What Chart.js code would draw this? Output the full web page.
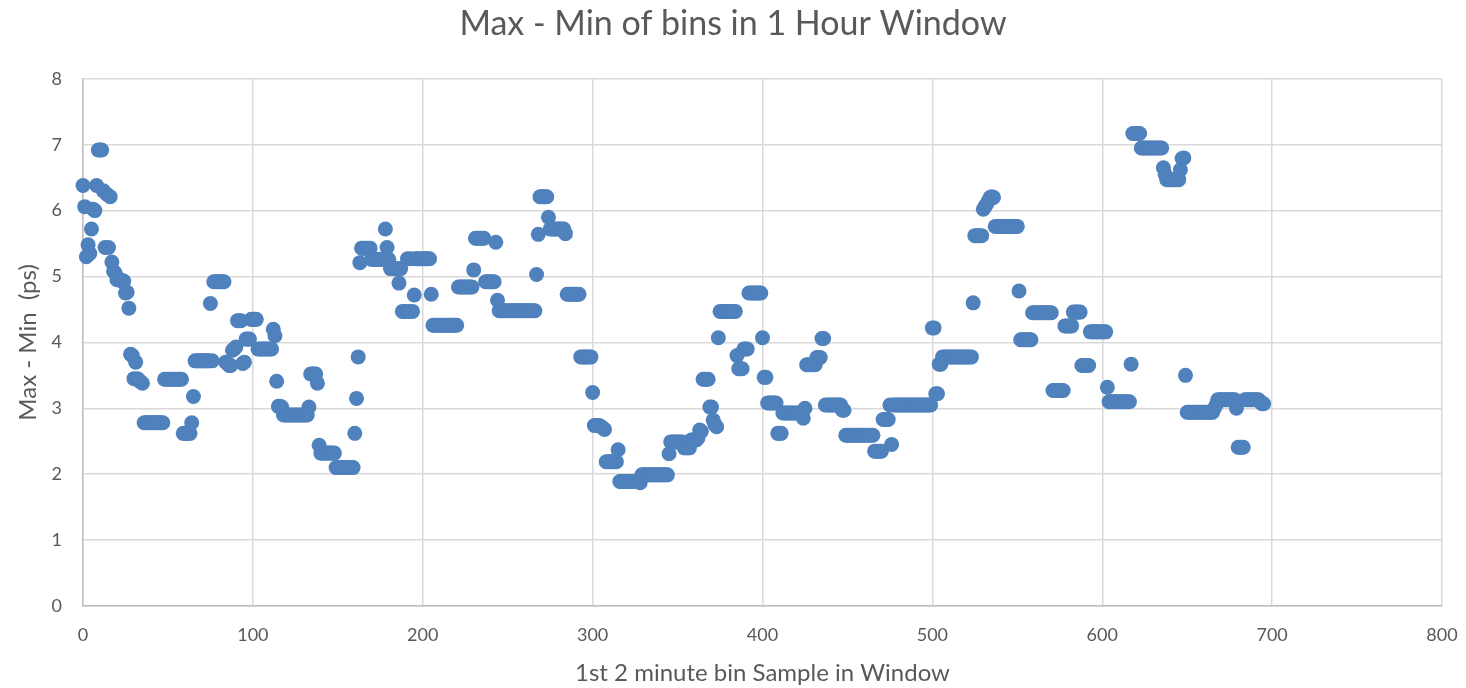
<!DOCTYPE html>
<html>
<head>
<meta charset="utf-8">
<title>Max - Min of bins in 1 Hour Window</title>
<script src="https://cdn.jsdelivr.net/npm/chart.js@4.4.1/dist/chart.umd.min.js"></script>
<style>
  html, body { margin: 0; padding: 0; background: #fff; }
  #wrap { width: 1466px; height: 688px; }
</style>
</head>
<body>
<div id="wrap"><canvas id="chart" width="1466" height="688"></canvas></div>
<script>
const chartTitle = 'Max - Min of bins in 1 Hour Window';
const xTitle = '1st 2 minute bin Sample in Window';
const yTitle = 'Max - Min  (ps)';

// max - min (ps) for each 2 minute bin, one value per sample index (0, 1, 2, ...)
const maxMinPs = [
  6.38, 6.06, 5.30, 5.48, 5.35, 5.72, 6.02, 6.00, 6.38, 6.92,
  6.92, 6.92, 6.30, 5.44, 6.25, 5.44, 6.21, 5.22, 5.08, 5.05,
  4.95, 4.95, 4.95, 4.93, 4.93, 4.75, 4.76, 4.52, 3.82, 3.80,
  3.45, 3.70, 3.45, 3.42, 3.40, 3.38, 2.78, 2.78, 2.78, 2.78,
  2.78, 2.78, 2.78, 2.78, 2.78, 2.78, 2.78, 2.78, 3.44, 3.44,
  3.44, 3.44, 3.44, 3.44, 3.44, 3.44, 3.44, 3.44, 3.44, 2.62,
  2.62, 2.62, 2.62, 2.62, 2.78, 3.18, 3.72, 3.72, 3.72, 3.72,
  3.72, 3.72, 3.72, 3.72, 3.72, 4.59, 3.72, 4.92, 4.92, 4.92,
  4.92, 4.92, 4.92, 4.92, 3.70, 3.68, 3.65, 3.65, 3.88, 3.90,
  3.93, 4.33, 4.33, 4.33, 3.68, 3.70, 4.05, 4.05, 4.05, 4.35,
  4.35, 4.35, 4.35, 3.90, 3.90, 3.90, 3.90, 3.90, 3.90, 3.90,
  3.90, 3.90, 4.20, 4.10, 3.41, 3.03, 3.03, 3.02, 2.90, 2.90,
  2.90, 2.90, 2.90, 2.90, 2.90, 2.90, 2.90, 2.90, 2.90, 2.90,
  2.90, 2.90, 2.90, 3.02, 3.52, 3.52, 3.52, 3.52, 3.38, 2.44,
  2.32, 2.32, 2.32, 2.32, 2.32, 2.32, 2.32, 2.32, 2.32, 2.10,
  2.10, 2.10, 2.10, 2.10, 2.10, 2.10, 2.10, 2.10, 2.10, 2.10,
  2.62, 3.15, 3.78, 5.21, 5.43, 5.43, 5.43, 5.43, 5.43, 5.43,
  5.26, 5.26, 5.26, 5.26, 5.26, 5.26, 5.26, 5.26, 5.72, 5.44,
  5.26, 5.12, 5.12, 5.12, 5.12, 5.12, 4.90, 5.12, 4.47, 4.47,
  4.47, 5.27, 4.47, 5.27, 4.47, 4.72, 5.27, 5.27, 5.27, 5.27,
  5.27, 5.27, 5.27, 5.27, 5.27, 4.73, 4.26, 4.26, 4.26, 4.26,
  4.26, 4.26, 4.26, 4.26, 4.26, 4.26, 4.26, 4.26, 4.26, 4.26,
  4.26, 4.84, 4.84, 4.84, 4.84, 4.84, 4.84, 4.84, 4.84, 4.84,
  5.10, 5.58, 5.58, 5.58, 5.58, 5.58, 5.58, 4.92, 4.92, 4.92,
  4.92, 4.92, 4.92, 5.52, 4.64, 4.48, 4.48, 4.48, 4.48, 4.48,
  4.48, 4.48, 4.48, 4.48, 4.48, 4.48, 4.48, 4.48, 4.48, 4.48,
  4.48, 4.48, 4.48, 4.48, 4.48, 4.48, 4.48, 5.03, 5.64, 6.21,
  6.21, 6.21, 6.21, 6.21, 5.90, 5.72, 5.72, 5.72, 5.72, 5.72,
  5.72, 5.72, 5.72, 5.72, 5.65, 4.73, 4.73, 4.73, 4.73, 4.73,
  4.73, 4.73, 4.73, 3.78, 3.78, 3.78, 3.78, 3.78, 3.78, 3.78,
  3.24, 2.74, 2.74, 2.74, 2.74, 2.72, 2.70, 2.68, 2.19, 2.19,
  2.19, 2.19, 2.19, 2.19, 2.19, 2.37, 1.89, 1.89, 1.89, 1.89,
  1.89, 1.89, 1.89, 1.89, 1.89, 1.89, 1.89, 1.89, 1.87, 1.99,
  1.99, 1.99, 1.99, 1.99, 1.99, 1.99, 1.99, 1.99, 1.99, 1.99,
  1.99, 1.99, 1.99, 1.99, 1.99, 2.31, 2.49, 2.49, 2.49, 2.49,
  2.49, 2.49, 2.49, 2.49, 2.40, 2.40, 2.40, 2.40, 2.52, 2.52,
  2.52, 2.52, 2.55, 2.67, 2.65, 3.44, 3.44, 3.44, 3.44, 3.02,
  3.02, 2.82, 2.75, 2.72, 4.07, 4.47, 4.47, 4.47, 4.47, 4.47,
  4.47, 4.47, 4.47, 4.47, 4.47, 3.80, 3.60, 3.60, 3.60, 3.90,
  3.90, 3.90, 4.75, 4.75, 4.75, 4.75, 4.75, 4.75, 4.75, 4.75,
  4.07, 3.47, 3.47, 3.08, 3.08, 3.08, 3.08, 3.08, 3.08, 2.62,
  2.62, 2.62, 2.93, 2.93, 2.93, 2.93, 2.93, 2.93, 2.93, 2.93,
  2.93, 2.93, 2.93, 2.93, 2.85, 3.00, 3.66, 3.66, 3.66, 3.66,
  3.66, 3.66, 3.77, 3.77, 3.77, 4.06, 4.06, 3.05, 3.05, 3.05,
  3.05, 3.05, 3.05, 3.05, 3.05, 3.05, 3.05, 2.97, 2.97, 2.59,
  2.59, 2.59, 2.59, 2.59, 2.59, 2.59, 2.59, 2.59, 2.59, 2.59,
  2.59, 2.59, 2.59, 2.59, 2.59, 2.59, 2.35, 2.35, 2.35, 2.35,
  2.35, 2.83, 2.83, 2.83, 2.83, 3.05, 2.45, 3.05, 3.05, 3.05,
  3.05, 3.05, 3.05, 3.05, 3.05, 3.05, 3.05, 3.05, 3.05, 3.05,
  3.05, 3.05, 3.05, 3.05, 3.05, 3.05, 3.05, 3.05, 3.05, 3.05,
  4.22, 4.22, 3.22, 3.22, 3.67, 3.67, 3.78, 3.78, 3.78, 3.78,
  3.78, 3.78, 3.78, 3.78, 3.78, 3.78, 3.78, 3.78, 3.78, 3.78,
  3.78, 3.78, 3.78, 3.78, 4.60, 5.62, 5.62, 5.62, 5.62, 5.62,
  6.02, 6.06, 6.10, 6.15, 6.20, 6.21, 6.20, 5.76, 5.76, 5.76,
  5.76, 5.76, 5.76, 5.76, 5.76, 5.76, 5.76, 5.76, 5.76, 5.76,
  5.76, 4.78, 4.04, 4.04, 4.04, 4.04, 4.04, 4.04, 4.04, 4.45,
  4.45, 4.45, 4.45, 4.45, 4.45, 4.45, 4.45, 4.45, 4.45, 4.45,
  4.45, 3.27, 3.27, 3.27, 3.27, 3.27, 3.27, 3.27, 4.25, 4.25,
  4.25, 4.25, 4.25, 4.46, 4.46, 4.46, 4.46, 4.46, 3.65, 3.65,
  3.65, 3.65, 3.65, 4.16, 4.16, 4.16, 4.16, 4.16, 4.16, 4.16,
  4.16, 4.16, 4.16, 3.32, 3.10, 3.10, 3.10, 3.10, 3.10, 3.10,
  3.10, 3.10, 3.10, 3.10, 3.10, 3.10, 3.10, 3.67, 7.17, 7.17,
  7.17, 7.17, 7.17, 6.95, 6.95, 6.95, 6.95, 6.95, 6.95, 6.95,
  6.95, 6.95, 6.95, 6.95, 6.95, 6.95, 6.65, 6.55, 6.47, 6.47,
  6.47, 6.47, 6.47, 6.47, 6.47, 6.47, 6.62, 6.79, 6.80, 3.50,
  2.94, 2.94, 2.94, 2.94, 2.94, 2.94, 2.94, 2.94, 2.94, 2.94,
  2.94, 2.94, 2.94, 2.94, 2.94, 2.94, 3.00, 3.05, 3.13, 3.13,
  3.13, 3.13, 3.13, 3.13, 3.13, 3.13, 3.13, 3.13, 3.13, 3.00,
  2.41, 2.41, 2.41, 2.41, 3.13, 3.13, 3.13, 3.13, 3.13, 3.13,
  3.13, 3.13, 3.13, 3.10, 3.07, 3.07
];

const xRange = [0, 800];
const yRange = [0, 8];

const textGrey = '#595959';
const gridGrey = '#d9d9d9';
const markBlue = '#4f81bd';

Chart.defaults.font.family = 'Lato, "Open Sans", "DejaVu Sans", sans-serif';
Chart.defaults.color = textGrey;

const points = maxMinPs.map((v, i) => ({ x: i, y: v }));

new Chart(document.getElementById('chart'), {
  type: 'scatter',
  data: {
    datasets: [{
      label: 'Max - Min',
      data: points,
      backgroundColor: markBlue,
      borderWidth: 0,
      pointRadius: 7.5,
      pointHoverRadius: 7.5,
      clip: false
    }]
  },
  options: {
    responsive: false,
    animation: false,
    devicePixelRatio: 1,
    layout: { padding: 0 },
    plugins: {
      legend: { display: false },
      tooltip: { enabled: false },
      title: {
        display: true,
        text: chartTitle,
        color: textGrey,
        font: { size: 34, weight: 'normal' },
        padding: { top: 4, bottom: 34 }
      }
    },
    scales: {
      x: {
        type: 'linear',
        min: xRange[0],
        max: xRange[1],
        // fixed axis band; right gap kept here so the title stays centred on the canvas
        afterFit: s => { s.height = 82; s.paddingLeft = 0; s.paddingRight = 24; },
        ticks: { stepSize: 100, padding: 18, font: { size: 18 }, maxRotation: 0 },
        grid: { color: gridGrey, lineWidth: 1.5, drawTicks: false },
        border: { color: '#bfbfbf', width: 1.5 },
        title: { display: true, text: xTitle, font: { size: 24 }, padding: 0 }
      },
      y: {
        min: yRange[0],
        max: yRange[1],
        afterFit: s => { s.width = 83; s.paddingTop = 0; s.paddingBottom = 0; },
        ticks: { stepSize: 1, padding: 21, font: { size: 18 } },
        grid: { color: gridGrey, lineWidth: 1.5, drawTicks: false },
        border: { color: '#bfbfbf', width: 1.5 },
        title: { display: true, text: yTitle, font: { size: 24 }, padding: { top: 14, bottom: 0 } }
      }
    }
  }
});
</script>
</body>
</html>
